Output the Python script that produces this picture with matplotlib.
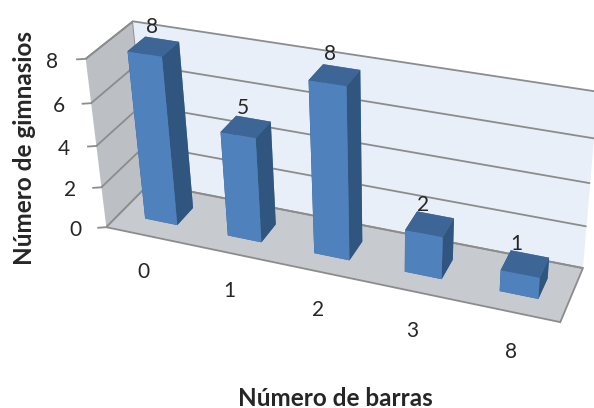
import matplotlib
matplotlib.use("Agg")
import matplotlib.pyplot as plt
from mpl_toolkits.mplot3d import proj3d
import numpy as np

categories = ["0", "1", "2", "3", "8"]
gyms = [8, 5, 8, 2, 1]
z_ticks = [0, 2, 4, 6, 8]

plt.rcParams["font.family"] = ["Lato", "DejaVu Sans"]
text_color = "#262626"
line_color = "#8c8c8c"

fig = plt.figure(figsize=(5.94, 4.08), dpi=100)

# axes box in pixels, square because Axes3D forces it
size = 523.9
cx, cy = 328.6, 236.9
ax = fig.add_axes([(cx - size / 2) / 594, (cy - size / 2) / 408, size / 594, size / 408], projection="3d")
ax.set_proj_type("persp", focal_length=0.4819)
ax.view_init(elev=29.91, azim=-67.77, roll=1.291)
ax.set_box_aspect((5, 0.9805, 2.0155))

ax.set_xlim(0, 5)
ax.set_ylim(0, 1)
ax.set_zlim(0, 8)

# walls and floor
ax.xaxis.set_pane_color("#bcbfc4")
ax.yaxis.set_pane_color("#e8eff8")
ax.zaxis.set_pane_color("#c7cbd0")
ax.xaxis.pane.set_edgecolor(line_color)
ax.yaxis.pane.set_edgecolor("none")
ax.zaxis.pane.set_edgecolor(line_color)
ax.xaxis.pane.set_linewidth(1.3)
ax.zaxis.pane.set_linewidth(1.3)

ax.set_xticks([])
ax.set_yticks([])
ax.set_zticks(z_ticks)
ax.set_zticklabels([])
ax.zaxis._axinfo["grid"]["color"] = line_color
ax.zaxis._axinfo["grid"]["linewidth"] = 1.3
ax.zaxis._axinfo["tick"]["inward_factor"] = 0
ax.zaxis._axinfo["tick"]["outward_factor"] = 0
for a in (ax.xaxis, ax.yaxis, ax.zaxis):
    a.line.set_color("none")

# bars, faces are -z +z -y +y -x +x
bar_x = np.arange(5) + 0.3134
face_colors = ["#3d6696", "#3d6696", "#4f81bd", "#4f81bd", "#30567f", "#30567f"] * 5
ax.bar3d(bar_x, [0.3056] * 5, [0] * 5, 0.3945, 0.3849, gyms, color=face_colors, shade=False)

proj = ax.get_proj()


def label3d(x, y, z, s):
    # projected by hand so the text stays a plain 2D artist
    px, py, _ = proj3d.proj_transform(x, y, z, proj)
    ax.text2D(px, py, s, transform=ax.transData, fontsize=15, ha="center", va="center", color=text_color)


# value labels above the bars
for i in range(5):
    label3d(bar_x[i] + 0.2 - 0.025 * i, 0.498, gyms[i] + 0.85, str(gyms[i]))

# category labels below the front edge
for i in range(5):
    label3d(i * 1.03 + 0.41, 0, -1.95, categories[i])

# value axis ticks and labels on the front edge of the left wall
for z in z_ticks:
    ax.plot([-0.077, 0], [-0.041, 0], [z, z], color=line_color, linewidth=1.3)
    label3d(-0.30, -0.15, z - 0.05, str(z))

fig.text(24 / 594, 1 - 148 / 408, "Número de gimnasios", rotation=90, fontsize=17.5, fontweight="bold",
         ha="center", va="center", color=text_color)
fig.text(335 / 594, 1 - 398 / 408, "Número de barras", fontsize=17.5, fontweight="bold",
         ha="center", va="center", color=text_color)

fig.savefig("out.png", dpi=100)
